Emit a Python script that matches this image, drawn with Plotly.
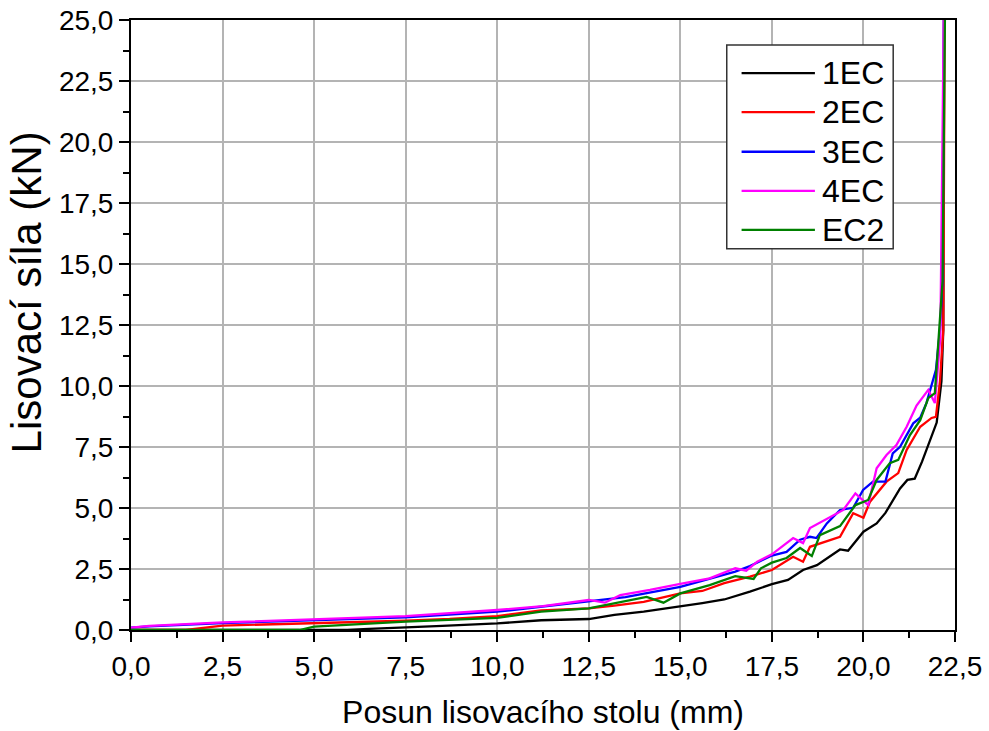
import plotly.graph_objects as go

# 1EC (black)
x_1ec = [0, 5.9, 6.5, 7.5, 8.5, 10, 11.2, 12.5, 13.2, 14, 15, 15.6, 16.2, 16.9, 17.5, 17.94,
         18.35, 18.73, 19.36, 19.58, 20.0, 20.36, 20.6, 21.0, 21.2, 21.4, 21.6, 21.86, 22.0,
         22.13, 22.18, 22.2]
y_1ec = [0, 0, 0.05, 0.1, 0.17, 0.27, 0.4, 0.45, 0.62, 0.75, 0.95, 1.1, 1.25, 1.57, 1.88, 2.05,
         2.46, 2.66, 3.3, 3.25, 4.03, 4.37, 4.8, 5.8, 6.15, 6.2, 6.9, 7.9, 8.5,
         10.2, 12.3, 26]

# 2EC (red)
x_2ec = [0, 1.5, 2.5, 3.5, 5, 6.2, 7.5, 8.7, 10, 11.2, 12.5, 13.2, 14, 15, 15.6, 16.2, 16.9,
         17.5, 18.08, 18.35, 18.54, 19.36, 19.72, 20.0, 20.18, 20.63, 20.95, 21.18, 21.55,
         21.86, 21.98, 22.09, 22.18, 22.22]
y_2ec = [0, 0, 0.18, 0.22, 0.27, 0.32, 0.38, 0.45, 0.57, 0.8, 0.89, 1.0, 1.15, 1.5, 1.6, 1.92, 2.19,
         2.46, 3.0, 2.8, 3.41, 3.82, 4.79, 4.6, 5.26, 6.08, 6.43, 7.38, 8.33,
         8.69, 8.74, 10.2, 12.3, 26]

# 3EC (blue)
x_3ec = [0, 0.5, 2.5, 5, 7.5, 10, 11.2, 12.5, 13.5, 15, 16.5, 16.9, 17.5, 17.9, 18.27, 18.54,
         18.72, 19.0, 19.36, 19.72, 19.99, 20.26, 20.6, 20.8, 21.0, 21.36, 21.55, 21.72, 21.98,
         22.09, 22.16, 22.2]
y_3ec = [0.1, 0.15, 0.28, 0.4, 0.52, 0.75, 0.95, 1.16, 1.35, 1.77, 2.39, 2.62, 3.05, 3.2, 3.7, 3.82,
         3.77, 4.37, 4.92, 5.01, 5.74, 6.08, 6.08, 7.24, 7.51, 8.47, 8.7, 9.3, 10.66,
         12.3, 14.3, 26]

# 4EC (magenta)
x_4ec = [0, 0.5, 2.5, 5, 7.5, 10, 11.25, 12.5, 12.94, 13.36, 14.17, 15.0, 15.8, 16.5, 16.8, 17.1,
         17.5, 18.08, 18.35, 18.54, 19.09, 19.45, 19.78, 20.13, 20.36, 20.63, 20.9, 21.18, 21.45,
         21.77, 21.95, 22.1, 22.2]
y_4ec = [0.1, 0.17, 0.31, 0.44, 0.57, 0.82, 0.98, 1.23, 1.12, 1.43, 1.64, 1.89, 2.12, 2.53, 2.43, 2.8,
         3.1, 3.77, 3.56, 4.18, 4.64, 4.92, 5.6, 5.12, 6.63, 7.17, 7.58, 8.33, 9.2,
         9.84, 9.3, 12.0, 26]

# EC2 (green)
x_ec2 = [0, 4.6, 5, 7.5, 10, 11.2, 12.5, 14.08, 14.54, 15.0, 15.8, 16.5, 17.0, 17.2, 17.5, 17.9,
         18.27, 18.59, 18.81, 19.36, 19.78, 20.13, 20.36, 20.72, 20.95, 21.27, 21.55, 21.77,
         21.95, 22.04, 22.16, 22.23]
y_ec2 = [0, 0, 0.14, 0.34, 0.5, 0.75, 0.89, 1.36, 1.12, 1.5, 1.84, 2.21, 2.09, 2.53, 2.76, 2.95,
         3.36, 3.03, 3.89, 4.26, 5.12, 5.33, 6.15, 6.84, 6.97, 7.99, 8.6, 9.5,
         9.71, 11.6, 14.3, 26]

series_names = ["1EC", "2EC", "3EC", "4EC", "EC2"]
series_colors = ["#000000", "#ff0000", "#0000ff", "#ff00ff", "#008000"]
series_x = [x_1ec, x_2ec, x_3ec, x_4ec, x_ec2]
series_y = [y_1ec, y_2ec, y_3ec, y_4ec, y_ec2]

tick_vals = [0, 2.5, 5, 7.5, 10, 12.5, 15, 17.5, 20, 22.5, 25]
tick_text = [f"{v:.1f}".replace(".", ",") for v in tick_vals]

FONT = "Liberation Sans, Arial, sans-serif"

fig = go.Figure()
for name, col, xs, ys in zip(series_names, series_colors, series_x, series_y):
    fig.add_trace(go.Scatter(x=xs, y=ys, mode="lines", name=name,
                             line=dict(color=col, width=2.3), showlegend=False))

axis_common = dict(
    showline=True, linecolor="black", linewidth=2, mirror=True,
    ticks="outside", ticklen=10, tickwidth=2, tickcolor="black",
    showgrid=True, gridcolor="#b4b4b4", gridwidth=1.5,
    zeroline=False, automargin=False,
    tickfont=dict(family=FONT, size=28, color="black"),
    minor=dict(ticks="outside", ticklen=6, tickwidth=2, tickcolor="black",
               dtick=1.25, showgrid=False),
)

fig.update_xaxes(range=[0, 22.5], tickvals=tick_vals[:-1], ticktext=tick_text[:-1],
                 title=dict(text="Posun lisovacího stolu (mm)",
                            font=dict(family=FONT, size=32, color="black"), standoff=20),
                 **axis_common)
fig.update_yaxes(range=[0, 25], tickvals=tick_vals, ticktext=tick_text, **axis_common)

# y-axis title
fig.add_annotation(text="Lisovací síla (kN)", textangle=-90, xref="paper", yref="paper",
                   x=-0.127, y=0.554, xanchor="center", yanchor="middle", showarrow=False,
                   font=dict(family=FONT, size=42, color="black"))

# legend (drawn manually)
fig.add_shape(type="rect", xref="paper", yref="paper", x0=0.723, x1=0.925, y0=0.625, y1=0.959,
              line=dict(color="#333333", width=1.5), fillcolor="white", layer="above")
row_y = [0.913, 0.849, 0.784, 0.720, 0.656]
for name, col, ry in zip(series_names, series_colors, row_y):
    fig.add_shape(type="line", xref="paper", yref="paper", x0=0.741, x1=0.830, y0=ry, y1=ry,
                  line=dict(color=col, width=2.3), layer="above")
    fig.add_annotation(text=name, xref="paper", yref="paper", x=0.836, y=ry, xanchor="left",
                       yanchor="middle", showarrow=False,
                       font=dict(family=FONT, size=32, color="black"))

fig.update_layout(width=989, height=731, margin=dict(l=131, r=34, t=20, b=101),
                  plot_bgcolor="white", paper_bgcolor="white")

fig.write_html("out.html")
